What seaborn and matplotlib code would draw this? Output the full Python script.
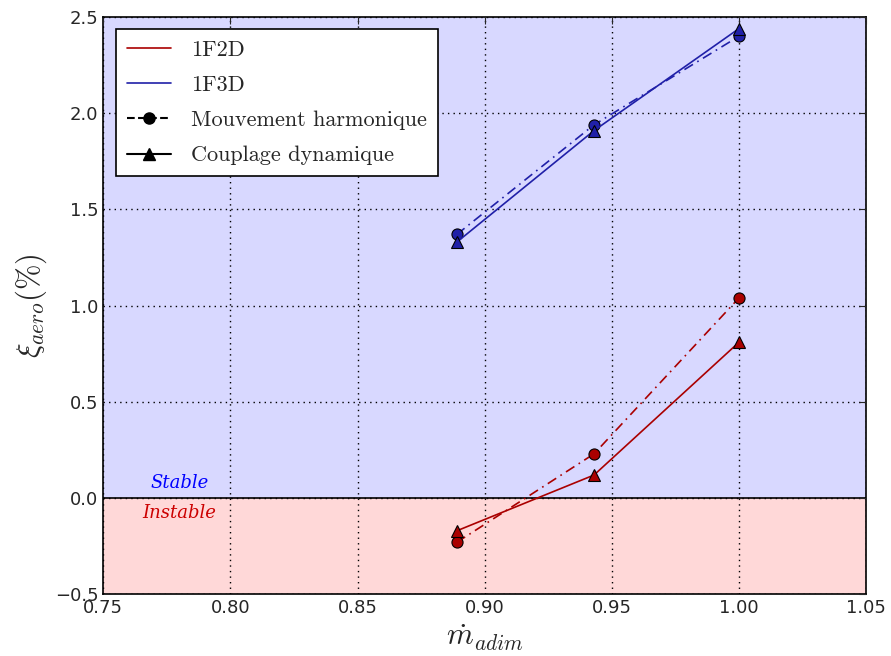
import pandas as pd
import matplotlib
matplotlib.use('Agg')
import matplotlib.pyplot as plt
import seaborn as sns
from matplotlib.lines import Line2D

# Data
m_adim = [0.889, 0.943, 1.0]
f2d_harmonique = [-0.23, 0.23, 1.04]
f2d_couplage = [-0.17, 0.12, 0.81]
f3d_harmonique = [1.37, 1.94, 2.40]
f3d_couplage = [1.33, 1.91, 2.44]

modes = ['1F2D', '1F3D']
methodes = ['Mouvement harmonique', 'Couplage dynamique']
couleurs = {'1F2D': '#aa0000', '1F3D': '#2020a8'}

rows = []
for mode, methode, vals in [('1F2D', 'Mouvement harmonique', f2d_harmonique),
                            ('1F2D', 'Couplage dynamique', f2d_couplage),
                            ('1F3D', 'Mouvement harmonique', f3d_harmonique),
                            ('1F3D', 'Couplage dynamique', f3d_couplage)]:
    for x, y in zip(m_adim, vals):
        rows.append({'mode': mode, 'methode': methode, 'm': x, 'xi': y})
df = pd.DataFrame(rows)

sns.set_style('white')
plt.rcParams['mathtext.fontset'] = 'cm'
plt.rcParams['xtick.direction'] = 'in'
plt.rcParams['ytick.direction'] = 'in'
plt.rcParams['font.family'] = ['DejaVu Sans']

fig, ax = plt.subplots(figsize=(8.91, 6.56), dpi=100)
fig.subplots_adjust(left=0.116, right=0.972, top=0.974, bottom=0.094)

# Stable / unstable regions
ax.axhspan(0, 2.5, color='#d8d8ff', zorder=0)
ax.axhspan(-0.5, 0, color='#ffd8d8', zorder=0)
ax.axhline(0, color='black', lw=1.2, zorder=1)

sns.lineplot(data=df, x='m', y='xi', hue='mode', style='methode',
             palette=couleurs, hue_order=modes, style_order=methodes,
             markers={'Mouvement harmonique': 'o', 'Couplage dynamique': '^'},
             dashes={'Mouvement harmonique': (6, 3, 1, 3), 'Couplage dynamique': ''},
             markersize=8, markeredgecolor='black', markeredgewidth=0.8,
             linewidth=1.2, legend=False, ax=ax, zorder=3)

ax.text(0.78, 0.03, 'Stable', color='blue', fontsize=13, style='italic',
        family='serif', ha='center', va='bottom')
ax.text(0.78, -0.03, 'Instable', color='#cc0000', fontsize=13, style='italic',
        family='serif', ha='center', va='top')

ax.set_xlim(0.75, 1.05)
ax.set_ylim(-0.5, 2.5)
ax.set_xticks([0.75, 0.80, 0.85, 0.90, 0.95, 1.00, 1.05])
ax.set_yticks([-0.5, 0.0, 0.5, 1.0, 1.5, 2.0, 2.5])
ax.set_xticklabels(['0.75', '0.80', '0.85', '0.90', '0.95', '1.00', '1.05'])
ax.tick_params(labelsize=13, top=True, right=True, length=5, width=0.8)
ax.grid(True, color='black', linestyle=(0, (1, 3)), linewidth=1.0)
ax.set_axisbelow(False)
for s in ax.spines.values():
    s.set_color('black')
    s.set_linewidth(1.2)
ax.set_xlabel(r'$\dot{m}_{adim}$', fontsize=22)
ax.set_ylabel(r'$\xi_{aero}(\%)$', fontsize=22)

handles = [
    Line2D([], [], color=couleurs['1F2D'], lw=1.2),
    Line2D([], [], color=couleurs['1F3D'], lw=1.2),
    Line2D([], [], color='black', ls='--', marker='o', markersize=8),
    Line2D([], [], color='black', ls='-', marker='^', markersize=8),
]
leg = ax.legend(handles, ['1F2D', '1F3D', 'Mouvement harmonique', 'Couplage dynamique'],
                loc='upper left', prop={'family': 'cmr10', 'size': 16},
                fancybox=False, framealpha=1, edgecolor='black',
                handlelength=2.0, handletextpad=0.9, borderaxespad=0.55,
                labelspacing=0.7, borderpad=0.5)
leg.get_frame().set_linewidth(1.2)

fig.savefig('out.png', dpi=100)
